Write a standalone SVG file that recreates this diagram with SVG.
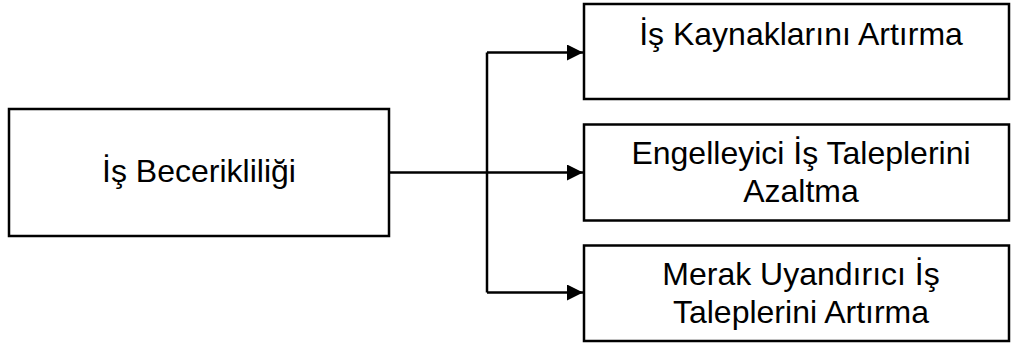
<svg xmlns="http://www.w3.org/2000/svg" width="1011" height="347" viewBox="0 0 1011 347">
<defs>
<style>
.box{fill:#fff;stroke:#000;stroke-width:2.5}
.lbl{font-family:"Liberation Sans",Arial,sans-serif;font-size:32px;fill:#000;text-anchor:middle}
.con{fill:none;stroke:#000;stroke-width:2.5}
</style>
<marker id="arr" viewBox="0 0 16 16" refX="16" refY="8" markerWidth="16" markerHeight="16" markerUnits="userSpaceOnUse" orient="auto">
<path d="M0,0 L16,8 L0,16 Z" fill="#000"/>
</marker>
</defs>
<rect width="1011" height="347" fill="#fff"/>
<g id="connectors">
<path class="con" d="M389,172.5 H487"/>
<path class="con" d="M487,52.5 V292.5"/>
<path class="con" d="M487,52.5 H583" marker-end="url(#arr)"/>
<path class="con" d="M487,172.5 H583" marker-end="url(#arr)"/>
<path class="con" d="M487,292.5 H583" marker-end="url(#arr)"/>
</g>
<g id="node-is-becerikliligi">
<rect class="box" x="9" y="109" width="380" height="127"/>
<text class="lbl" x="199" y="182">İş Becerikliliği</text>
</g>
<g id="node-kaynak">
<rect class="box" x="584" y="4" width="425" height="95"/>
<text class="lbl" x="801" y="45">İş Kaynaklarını Artırma</text>
</g>
<g id="node-engelleyici">
<rect class="box" x="584" y="124.5" width="425" height="96"/>
<text class="lbl" x="801" y="164">Engelleyici İş Taleplerini</text>
<text class="lbl" x="801" y="202">Azaltma</text>
</g>
<g id="node-merak">
<rect class="box" x="584" y="245.5" width="425" height="95.5"/>
<text class="lbl" x="801" y="285">Merak Uyandırıcı İş</text>
<text class="lbl" x="801" y="323">Taleplerini Artırma</text>
</g>
</svg>
